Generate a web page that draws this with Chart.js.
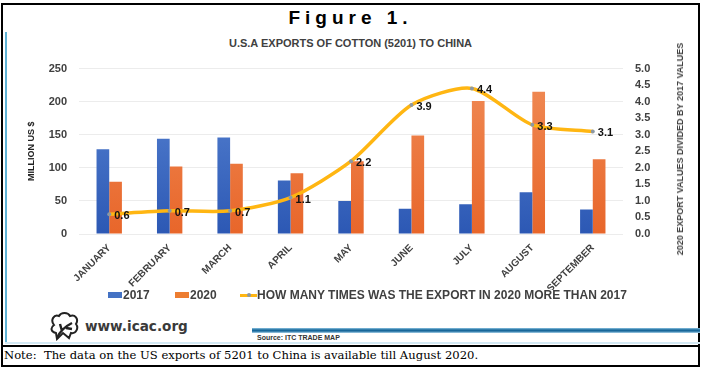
<!DOCTYPE html>
<html>
<head>
<meta charset="utf-8">
<script src="https://cdn.jsdelivr.net/npm/chart.js@4.4.1/dist/chart.umd.min.js"></script>
<style>
  html, body { margin: 0; padding: 0; background: #fff; }
  #page { position: relative; width: 701px; height: 367px; overflow: hidden; background: #fff; }
  .abs { position: absolute; }
  #frame { left: 1px; top: 3px; width: 699px; height: 364px; box-sizing: border-box; border: 2px solid #000; }
  #sep { left: 1px; top: 345px; width: 699px; height: 2px; background: #000; }
  #sepBlue { left: 5px; top: 342px; width: 695px; height: 2px; background: #d3e9f4; }
  #vline { left: 5px; top: 32px; width: 2px; height: 311px; background: #5fb3d6; }
  #srcline { left: 252px; top: 328px; width: 448px; height: 5px;
             background: linear-gradient(#8cc2e0, #17679a 40%, #17679a 60%, #a9d2ea); }
  #fig { left: 0; width: 701px; top: 7px; text-align: center; font: bold 19px "Liberation Sans Narrow", "Liberation Sans", sans-serif;
         letter-spacing: 5px; color: #000; }
  #sub { left: 0; width: 701px; top: 37px; text-align: center; font: bold 11px "Liberation Sans Narrow", "Liberation Sans", sans-serif; color: #404040; }
  #chartBox { left: 10px; top: 50px; width: 685px; height: 240px; }
  #rtitle { left: 680px; top: 149px; transform: translate(-50%, -50%) rotate(-90deg); white-space: nowrap;
            font: bold 9px "Liberation Sans Narrow", "Liberation Sans", sans-serif; color: #404040; }
  #legend { left: 0; top: 288px; height: 14px; font: bold 12px "Liberation Sans", sans-serif; color: #404040; white-space: nowrap; }
  #legend span { position: absolute; top: 0; line-height: 14px; }
  #legend i { position: absolute; display: block; }
  #icac { left: 85px; top: 318px; font: bold 13.6px "DejaVu Sans", sans-serif; color: #3a3a3a; }
  #source { left: 257px; top: 334px; font: bold 7px "Liberation Sans Narrow", "Liberation Sans", sans-serif; color: #333; }
  #note { left: 4px; top: 348px; font: 11.6px "DejaVu Serif", serif; color: #000; white-space: pre; }
  #logo { left: 48px; top: 311px; }
</style>
</head>
<body>
<div id="page">
  <div class="abs" id="frame"></div>
  <div class="abs" id="vline"></div>
  <div class="abs" id="sepBlue"></div>
  <div class="abs" id="sep"></div>
  <div class="abs" id="srcline"></div>
  <div class="abs" id="fig">Figure 1.</div>
  <div class="abs" id="sub">U.S.A EXPORTS OF COTTON (5201) TO CHINA</div>
  <div class="abs" id="chartBox"><canvas id="cottonChart"></canvas></div>
  <div class="abs" id="rtitle">2020 EXPORT VALUES DIVIDED BY 2017 VALUES</div>
  <div class="abs" id="legend"></div>
  <svg class="abs" id="logo" width="32" height="30" viewBox="0 0 32 30">
    <path d="M6 14 C2 9 6 3 11 5 C13 1 20 1 22 5 C27 3 31 8 28 13 C31 17 28 23 23 22 L21 27 L15 22 L9 28 L8 22 C3 21 2 17 6 14 Z"
          fill="none" stroke="#222" stroke-width="2"/>
    <path d="M9 27 C12 20 16 16 24 12 M14 20 L12 13 M18 17 L24 18" fill="none" stroke="#222" stroke-width="2.4"/>
  </svg>
  <div class="abs" id="icac">www.icac.org</div>
  <div class="abs" id="source">Source: ITC TRADE MAP</div>
  <div class="abs" id="note">Note:  The data on the US exports of 5201 to China is available till August 2020.</div>
</div>

<script>
var months = ['JANUARY', 'FEBRUARY', 'MARCH', 'APRIL', 'MAY', 'JUNE', 'JULY', 'AUGUST', 'SEPTEMBER'];
var exports2017 = [128, 144, 146, 81, 50, 38, 45, 63, 37];
var exports2020 = [79, 102, 106, 92, 110, 149, 201, 215, 113];
var timesMore = [0.6, 0.7, 0.7, 1.1, 2.2, 3.9, 4.4, 3.3, 3.1];
var leftTicks = [0, 50, 100, 150, 200, 250];
var rightTicks = [0, 0.5, 1, 1.5, 2, 2.5, 3, 3.5, 4, 4.5, 5];
var seriesNames = ['2017', '2020', 'HOW MANY TIMES WAS THE EXPORT IN 2020 MORE THAN 2017'];

var blue = '#4472c4';
var orange = '#ed7d31';
var gold = '#ffb612';

function barFill(top, bottom) {
    return function (ctx) {
        var area = ctx.chart.chartArea;
        if (!area) { return bottom; }
        var g = ctx.chart.ctx.createLinearGradient(0, area.top, 0, area.bottom);
        g.addColorStop(0, top);
        g.addColorStop(1, bottom);
        return g;
    };
}

// value labels next to the line points
var pointLabels = {
    id: 'pointLabels',
    afterDatasetsDraw: function (chart) {
        var meta = chart.getDatasetMeta(0);
        var c = chart.ctx;
        c.save();
        c.font = 'bold 11px "Liberation Sans", sans-serif';
        c.fillStyle = '#111';
        c.textAlign = 'left';
        c.textBaseline = 'middle';
        meta.data.forEach(function (pt, i) {
            c.fillText(timesMore[i].toFixed(1), pt.x + 5, pt.y + 2);
        });
        c.restore();
    }
};

var ctx = document.getElementById('cottonChart');

var chart = new Chart(ctx, {
    data: {
        labels: months,
        datasets: [
            {
                type: 'line',
                label: seriesNames[2],
                data: timesMore,
                yAxisID: 'yRight',
                borderColor: gold,
                borderWidth: 3.5,
                tension: 0.25,
                pointRadius: 2,
                pointBackgroundColor: '#8c98a4',
                pointBorderWidth: 0,
                order: 0
            },
            {
                type: 'bar',
                label: seriesNames[0],
                data: exports2017,
                yAxisID: 'yLeft',
                backgroundColor: barFill('#5a86d4', '#2c58b4'),
                categoryPercentage: 0.42,
                barPercentage: 1.0,
                order: 1
            },
            {
                type: 'bar',
                label: seriesNames[1],
                data: exports2020,
                yAxisID: 'yLeft',
                backgroundColor: barFill('#f08c57', '#e8662a'),
                categoryPercentage: 0.42,
                barPercentage: 1.0,
                order: 1
            }
        ]
    },
    options: {
        responsive: true,
        maintainAspectRatio: false,
        animation: false,
        layout: { padding: { top: 11, left: 0, right: 0, bottom: 0 } },
        plugins: {
            legend: { display: false },
            tooltip: { enabled: false }
        },
        scales: {
            x: {
                grid: { display: false },
                border: { display: false },
                ticks: {
                    autoSkip: false,
                    maxRotation: 45,
                    minRotation: 45,
                    padding: 0,
                    color: '#404040',
                    font: { family: 'Liberation Sans', size: 10, weight: 'bold' }
                },
                afterFit: function (scale) { scale.height = 56; }
            },
            yLeft: {
                position: 'left',
                min: 0,
                max: 250,
                afterBuildTicks: function (scale) {
                    scale.ticks = leftTicks.map(function (v) { return { value: v }; });
                },
                grid: { color: '#ececec', drawTicks: false },
                border: { display: false },
                ticks: {
                    padding: 12,
                    color: '#404040',
                    font: { family: 'Liberation Sans', size: 11, weight: 'bold' }
                },
                title: {
                    display: true,
                    text: 'MILLION US $',
                    color: '#222',
                    padding: { top: 16, bottom: 0 },
                    font: { family: 'Liberation Sans', size: 9, weight: 'bold' }
                },
                afterFit: function (scale) { scale.width = 69; }
            },
            yRight: {
                position: 'right',
                min: 0,
                max: 5,
                afterBuildTicks: function (scale) {
                    scale.ticks = rightTicks.map(function (v) { return { value: v }; });
                },
                grid: { display: false, drawTicks: false },
                border: { display: false },
                ticks: {
                    padding: 12,
                    color: '#404040',
                    font: { family: 'Liberation Sans', size: 11, weight: 'bold' },
                    callback: function (v) { return Number(v).toFixed(1); }
                },
                afterFit: function (scale) { scale.width = 72; }
            }
        }
    },
    plugins: [pointLabels]
});

// legend built from the dataset names and colours
var legendItems = [
    { text: seriesNames[0], color: blue, kind: 'box', boxX: 108, textX: 123 },
    { text: seriesNames[1], color: orange, kind: 'box', boxX: 175, textX: 190 },
    { text: seriesNames[2], color: gold, kind: 'line', boxX: 240, textX: 257 }
];
var legend = document.getElementById('legend');
legendItems.forEach(function (it) {
    var mark = document.createElement('i');
    if (it.kind === 'box') {
        mark.style.cssText = 'left:' + it.boxX + 'px;top:4px;width:14px;height:6px;background:' + it.color;
    } else {
        mark.style.cssText = 'left:' + it.boxX + 'px;top:6px;width:17px;height:3px;background:' + it.color;
        var dot = document.createElement('i');
        dot.style.cssText = 'left:' + (it.boxX + 7) + 'px;top:5px;width:4px;height:4px;border-radius:2px;background:#8c98a4';
        legend.appendChild(mark);
        mark = dot;
    }
    legend.appendChild(mark);
    var t = document.createElement('span');
    t.style.left = it.textX + 'px';
    t.textContent = it.text;
    legend.appendChild(t);
});
</script>
</body>
</html>
